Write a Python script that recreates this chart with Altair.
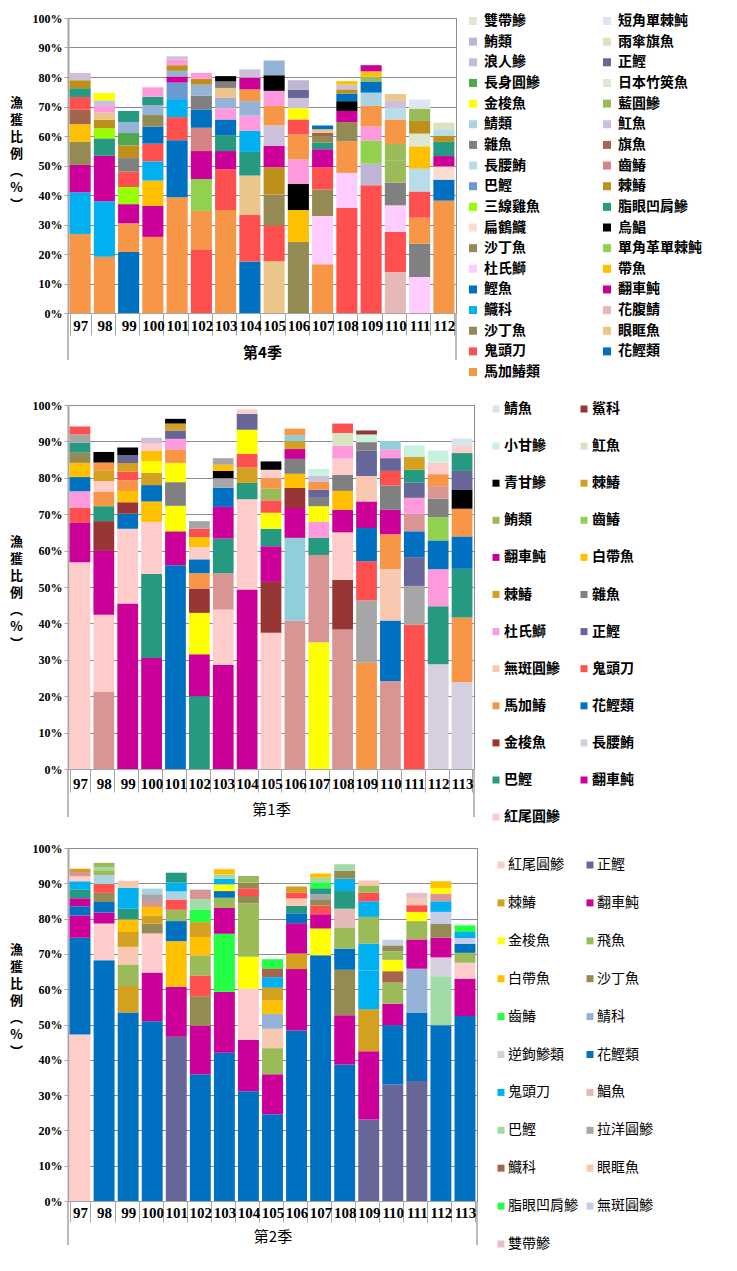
import altair as alt
import pandas as pd

PALETTE = {
    "org": "#F79646", "red": "#FF5050", "cyan": "#00B0F0", "blue": "#0070C0",
    "mag": "#CC0099", "olv": "#948A54", "yor": "#FFC000", "yel": "#FFFF00",
    "brn": "#A5644E", "teal": "#259A80", "gold": "#BF8F1C", "gold2": "#D4A020",
    "lav": "#CCC0DA", "lav2": "#BDB5D2", "lav3": "#C3BFD9", "lav4": "#D5CFE0",
    "pink": "#FF99DD", "lpink": "#FFCCFF", "lpk2": "#FFCCCC", "sb": "#95B3D7",
    "bb": "#6A9BD0", "grn": "#4EA84E", "lime": "#99FF00", "gray": "#808080",
    "gray2": "#A6A6A6", "lgb": "#B7DEE8", "lbl": "#A9D3E3", "lbl2": "#92CDDC",
    "pale": "#DDE8D4", "pgreen": "#D7E4BD", "tan": "#EBC68B", "dpink": "#D99594",
    "dpink1": "#D48484", "rose": "#E6B9B8", "blk": "#000000", "lgrn": "#92D050",
    "ogrn": "#9BBB59", "navy": "#666699", "peach": "#FCDCCF", "peach2": "#F9C8B0",
    "lsky": "#DCE6F0", "lsky2": "#D8E4EC", "dred": "#983535", "mint": "#C6F2DE",
    "bgrn": "#22FF44", "lgreen2": "#A0DCA8", "periw": "#C5CEE6", "pinkish": "#E6C0C8",
}

# ---------------- 第4季 ----------------
Q4_YEARS = ["97", "98", "99", "100", "101", "102", "103", "104", "105", "106",
            "107", "108", "109", "110", "111", "112"]
Q4_STACKS = [
    [("org", 26.8), ("cyan", 14.1), ("mag", 9.3), ("olv", 7.8), ("yor", 6.0), ("brn", 4.9), ("red", 4.3), ("teal", 3.0), ("gold", 2.7), ("lav", 2.5)],
    [("org", 19.1), ("cyan", 18.8), ("mag", 15.4), ("teal", 5.9), ("lime", 3.4), ("gold", 2.9), ("tan", 2.4), ("pink", 2.3), ("lav", 1.9), ("yel", 2.5)],
    [("blue", 20.7), ("org", 9.7), ("mag", 6.5), ("lime", 5.8), ("red", 5.2), ("gray", 4.6), ("gold", 4.3), ("grn", 4.2), ("sb", 3.7), ("teal", 3.8)],
    [("org", 25.8), ("mag", 10.5), ("yor", 8.6), ("cyan", 6.5), ("red", 6.0), ("blue", 5.8), ("olv", 3.9), ("sb", 3.4), ("teal", 2.8), ("pink", 3.2)],
    [("org", 39.2), ("blue", 19.4), ("red", 7.8), ("cyan", 6.1), ("bb", 5.6), ("mag", 2.1), ("sb", 1.9), ("gold", 1.9), ("pink", 1.9), ("lav", 1.1)],
    [("red", 21.6), ("org", 13.0), ("lgrn", 10.8), ("mag", 9.5), ("dpink1", 7.9), ("blue", 6.2), ("gray", 4.7), ("sb", 3.7), ("gold", 2.0), ("pink", 2.0)],
    [("org", 34.9), ("red", 13.8), ("mag", 6.2), ("teal", 5.4), ("blue", 5.3), ("pink", 3.8), ("sb", 3.5), ("tan", 3.4), ("gray", 2.2), ("blk", 1.8)],
    [("blue", 17.5), ("red", 15.7), ("tan", 13.4), ("teal", 8.0), ("cyan", 7.2), ("pink", 5.1), ("sb", 4.9), ("org", 4.0), ("mag", 4.0), ("lav", 2.8)],
    [("tan", 17.5), ("red", 12.2), ("olv", 10.5), ("gold", 9.2), ("mag", 7.2), ("lav", 7.0), ("org", 6.6), ("pink", 5.1), ("blk", 5.3), ("sb", 5.0)],
    [("olv", 24.1), ("yor", 10.8), ("blk", 8.9), ("pink", 8.3), ("org", 8.4), ("red", 5.1), ("yel", 3.8), ("lav", 3.5), ("navy", 2.8), ("lav2", 3.2)],
    [("org", 16.5), ("lpink", 16.4), ("olv", 9.0), ("red", 7.4), ("mag", 6.2), ("teal", 2.2), ("olv", 2.3), ("brn", 1.1), ("tan", 1.2), ("blue", 1.3)],
    [("red", 35.6), ("lpink", 11.9), ("org", 10.7), ("olv", 6.5), ("mag", 3.8), ("blk", 3.3), ("blue", 2.6), ("gold", 1.4), ("lav", 1.6), ("yor", 1.2)],
    [("red", 43.3), ("lav2", 7.3), ("lgrn", 7.9), ("pink", 4.7), ("org", 7.0), ("lbl", 4.5), ("blue", 3.6), ("ogrn", 1.9), ("yor", 1.7), ("mag", 2.1)],
    [("rose", 13.9), ("red", 13.6), ("lpink", 9.0), ("gray", 7.7), ("ogrn", 7.6), ("ogrn", 5.5), ("org", 8.3), ("lgb", 3.9), ("lav", 2.4), ("tan", 2.3)],
    [("lpink", 12.2), ("gray", 11.3), ("org", 8.8), ("red", 8.9), ("lgb", 7.7), ("yor", 7.6), ("pale", 4.3), ("gold", 4.3), ("ogrn", 4.2), ("lsky", 3.1)],
    [("org", 38.1), ("blue", 7.1), ("peach", 4.5), ("mag", 3.5), ("teal", 4.8), ("gold", 2.0), ("lgb", 2.3), ("pgreen", 2.2)],
]
Q4_LEGEND_LEFT = [("雙帶鰺", "pale"), ("鮪類", "lav2"), ("浪人鰺", "lav3"), ("長身圓鰺", "grn"),
                  ("金梭魚", "yel"), ("鯖類", "lbl"), ("雜魚", "gray"), ("長腰鮪", "lgb"),
                  ("巴鰹", "bb"), ("三線雞魚", "lime"), ("扁鶴鱵", "peach"), ("沙丁魚", "olv"),
                  ("杜氏鰤", "lpink"), ("鰹魚", "blue"), ("鱵科", "cyan"), ("沙丁魚", "olv"),
                  ("鬼頭刀", "red"), ("馬加鰆類", "org")]
Q4_LEGEND_RIGHT = [("短角單棘魨", "lsky"), ("雨傘旗魚", "pgreen"), ("正鰹", "navy"), ("日本竹筴魚", "pale"),
                   ("藍圓鰺", "ogrn"), ("魟魚", "lav"), ("旗魚", "brn"), ("齒鰆", "dpink1"),
                   ("棘鰆", "gold"), ("脂眼凹肩鰺", "teal"), ("烏鯧", "blk"), ("單角革單棘魨", "lgrn"),
                   ("帶魚", "yor"), ("翻車魨", "mag"), ("花腹鯖", "rose"), ("眼眶魚", "tan"),
                   ("花鰹類", "blue")]

# ---------------- 第1季 ----------------
Q1_YEARS = ["97", "98", "99", "100", "101", "102", "103", "104", "105", "106",
            "107", "108", "109", "110", "111", "112", "113"]
Q1_STACKS = [
    [("lpk2", 56.8), ("mag", 10.8), ("red", 4.2), ("pink", 4.5), ("blue", 3.9), ("yor", 3.9), ("olv", 2.8), ("teal", 2.7), ("gray2", 2.3), ("red", 2.2)],
    [("dpink", 21.3), ("lpk2", 21.1), ("mag", 17.5), ("dred", 8.2), ("teal", 4.1), ("org", 3.9), ("lpk2", 3.0), ("gold2", 2.8), ("org", 2.3), ("blk", 2.9)],
    [("mag", 45.5), ("lpk2", 20.5), ("blue", 4.1), ("dred", 3.2), ("yor", 3.1), ("org", 2.9), ("red", 2.4), ("gold2", 2.4), ("navy", 2.1), ("blk", 2.1)],
    [("mag", 30.5), ("teal", 23.1), ("lpk2", 14.3), ("yor", 5.6), ("blue", 4.5), ("gold2", 3.4), ("yel", 3.2), ("yor", 2.8), ("lpk2", 2.0), ("lav", 1.6)],
    [("blue", 56.0), ("mag", 9.3), ("yel", 7.0), ("gray", 6.5), ("yel", 5.3), ("org", 3.7), ("pink", 2.9), ("navy", 2.3), ("gold2", 1.9), ("blk", 1.3)],
    [("teal", 20.0), ("mag", 11.5), ("yel", 11.4), ("dred", 6.7), ("org", 4.2), ("blue", 3.8), ("lpk2", 3.4), ("yor", 2.7), ("red", 2.3), ("gray2", 2.1)],
    [("mag", 28.6), ("lpk2", 15.2), ("dpink", 10.0), ("teal", 9.5), ("mag", 8.7), ("blue", 5.3), ("gray2", 2.6), ("blk", 2.0), ("yor", 1.7), ("gray2", 1.8)],
    [("mag", 49.3), ("lpk2", 24.8), ("teal", 4.5), ("gold2", 4.2), ("red", 3.8), ("yel", 6.6), ("navy", 4.4), ("lpk2", 1.2)],
    [("lpk2", 37.4), ("dred", 14.0), ("mag", 9.8), ("teal", 4.8), ("yel", 4.4), ("red", 3.4), ("ogrn", 3.2), ("org", 3.0), ("lpk2", 2.2), ("blk", 2.3)],
    [("dpink", 40.7), ("lbl2", 22.8), ("mag", 8.2), ("dred", 5.5), ("yor", 3.9), ("gray", 4.1), ("mag", 2.7), ("gold2", 2.2), ("lbl2", 1.6), ("org", 1.8)],
    [("yel", 34.8), ("dpink", 24.0), ("teal", 4.7), ("pink", 4.4), ("yel", 4.3), ("gray", 2.3), ("navy", 2.2), ("org", 2.2), ("lav", 1.7), ("mint", 1.8)],
    [("dpink", 38.3), ("dred", 13.7), ("lpk2", 13.0), ("mag", 6.2), ("yor", 5.2), ("gray", 4.4), ("lpk2", 4.5), ("pink", 3.5), ("pgreen", 3.5), ("red", 2.6)],
    [("org", 29.2), ("gray2", 17.1), ("red", 10.8), ("blue", 9.1), ("mag", 7.3), ("peach2", 7.0), ("navy", 7.0), ("gray", 2.3), ("mint", 2.1), ("dred", 1.1)],
    [("dpink", 24.2), ("blue", 16.6), ("peach2", 14.1), ("org", 9.6), ("mag", 6.7), ("gray", 6.7), ("red", 4.0), ("navy", 3.5), ("pink", 2.4), ("lbl2", 2.3)],
    [("red", 39.6), ("gray2", 10.7), ("navy", 7.9), ("blue", 7.1), ("dpink", 4.8), ("pink", 4.4), ("navy", 4.2), ("teal", 3.5), ("gold2", 3.5), ("mint", 3.2)],
    [("lav4", 28.8), ("teal", 15.9), ("pink", 10.2), ("blue", 7.9), ("lgrn", 6.4), ("gray", 5.1), ("dpink", 3.4), ("org", 3.3), ("lpk2", 3.2), ("mint", 3.3)],
    [("lav4", 23.9), ("org", 17.7), ("teal", 13.4), ("blue", 8.9), ("org", 7.6), ("blk", 5.3), ("navy", 5.1), ("teal", 4.9), ("lpk2", 1.9), ("lsky2", 2.1)],
]
Q1_LEGEND_LEFT = [("鯖魚", "lsky2"), ("小甘鰺", "mint"), ("青甘鰺", "blk"), ("鮪類", "ogrn"),
                  ("翻車魨", "mag"), ("棘鰆", "gold2"), ("杜氏鰤", "pink"), ("無斑圓鰺", "peach2"),
                  ("馬加鰆", "org"), ("金梭魚", "dred"), ("巴鰹", "teal"), ("紅尾圓鰺", "lpk2")]
Q1_LEGEND_RIGHT = [("鯊科", "dred"), ("魟魚", "pgreen"), ("棘鰆", "gold2"), ("齒鰆", "lgrn"),
                   ("白帶魚", "yor"), ("雜魚", "gray"), ("正鰹", "navy"), ("鬼頭刀", "red"),
                   ("花鰹類", "blue"), ("長腰鮪", "lav4"), ("翻車魨", "mag")]

# ---------------- 第2季 ----------------
Q2_YEARS = ["97", "98", "99", "100", "101", "102", "103", "104", "105", "106",
            "107", "108", "109", "110", "111", "112", "113"]
Q2_STACKS = [
    [("lpk2", 47.2), ("blue", 27.4), ("mag", 6.3), ("blue", 2.6), ("mag", 2.3), ("teal", 2.4), ("cyan", 2.4), ("lpk2", 1.4), ("dpink", 1.2), ("gold2", 0.9)],
    [("blue", 68.2), ("lpk2", 10.4), ("mag", 3.1), ("blue", 3.0), ("olv", 2.6), ("red", 2.5), ("lbl", 2.5), ("ogrn", 1.4), ("lgreen2", 0.9), ("ogrn", 1.2)],
    [("blue", 53.4), ("gold2", 7.5), ("ogrn", 6.1), ("peach2", 5.0), ("gold2", 4.2), ("yor", 3.6), ("teal", 3.0), ("cyan", 5.9), ("peach2", 2.0)],
    [("blue", 50.9), ("mag", 13.8), ("lpk2", 11.1), ("olv", 2.8), ("gold2", 2.3), ("yor", 2.4), ("dpink", 1.7), ("gray2", 1.9), ("lbl", 1.6)],
    [("navy", 46.5), ("mag", 14.2), ("yor", 12.9), ("blue", 5.7), ("ogrn", 3.2), ("red", 2.9), ("lbl", 2.3), ("cyan", 2.5), ("teal", 2.8)],
    [("blue", 35.9), ("mag", 13.7), ("olv", 8.4), ("red", 5.9), ("ogrn", 5.7), ("yor", 5.2), ("gold2", 4.2), ("bgrn", 3.6), ("lgreen2", 2.9), ("dpink", 2.7)],
    [("blue", 42.0), ("mag", 17.3), ("bgrn", 16.4), ("mag", 7.3), ("ogrn", 2.9), ("blue", 1.9), ("yel", 1.9), ("cyan", 1.6), ("lgreen2", 1.2), ("yor", 1.5)],
    [("blue", 31.1), ("mag", 14.6), ("lpk2", 14.5), ("yel", 9.0), ("ogrn", 15.1), ("olv", 2.1), ("red", 2.2), ("olv", 1.6), ("ogrn", 1.9)],
    [("blue", 24.6), ("mag", 11.3), ("ogrn", 7.4), ("peach2", 5.5), ("sb", 4.2), ("yor", 3.8), ("gold2", 3.6), ("cyan", 3.0), ("brn", 2.5), ("bgrn", 2.6)],
    [("blue", 48.3), ("mag", 17.4), ("gold2", 4.4), ("mag", 8.6), ("blue", 2.8), ("teal", 2.1), ("peach2", 2.1), ("red", 1.7), ("gold2", 1.7)],
    [("blue", 69.6), ("yel", 7.6), ("mag", 4.0), ("red", 2.5), ("olv", 1.6), ("gray2", 1.6), ("teal", 1.7), ("bgrn", 1.7), ("lgreen2", 1.3), ("yor", 1.2)],
    [("blue", 38.7), ("mag", 13.9), ("olv", 12.9), ("blue", 6.0), ("ogrn", 6.0), ("rose", 5.3), ("teal", 5.0), ("cyan", 3.5), ("olv", 2.2), ("lgreen2", 1.9)],
    [("navy", 23.1), ("mag", 19.3), ("gold2", 11.9), ("cyan", 11.0), ("cyan", 7.6), ("ogrn", 7.6), ("cyan", 4.4), ("red", 2.4), ("ogrn", 2.1), ("peach2", 1.4)],
    [("navy", 33.0), ("blue", 16.8), ("mag", 6.1), ("ogrn", 6.0), ("brn", 3.2), ("yel", 3.2), ("ogrn", 2.4), ("olv", 1.7), ("periw", 1.6)],
    [("navy", 34.0), ("blue", 19.4), ("sb", 12.4), ("mag", 8.3), ("ogrn", 5.2), ("yel", 2.6), ("red", 1.9), ("peach2", 1.8), ("pinkish", 1.7)],
    [("blue", 49.8), ("lgreen2", 13.9), ("lav4", 5.3), ("mag", 5.6), ("olv", 4.0), ("periw", 3.3), ("cyan", 3.0), ("dpink", 2.2), ("yel", 1.6), ("yor", 1.9)],
    [("blue", 52.4), ("mag", 10.6), ("lpk2", 4.5), ("ogrn", 2.8), ("blue", 2.6), ("periw", 1.6), ("cyan", 1.7), ("bgrn", 1.9)],
]
Q2_LEGEND_LEFT = [("紅尾圓鯵", "lpk2"), ("棘鰆", "gold2"), ("金梭魚", "yel"), ("白帶魚", "yor"),
                  ("齒鰆", "bgrn"), ("逆鉤鯵類", "lav4"), ("鬼頭刀", "cyan"), ("巴鰹", "lgreen2"),
                  ("鱵科", "brn"), ("脂眼凹肩鯵", "bgrn"), ("雙帶鯵", "pinkish")]
Q2_LEGEND_RIGHT = [("正鰹", "navy"), ("翻車魨", "mag"), ("飛魚", "ogrn"), ("沙丁魚", "olv"),
                   ("鯖科", "sb"), ("花鰹類", "blue"), ("鯧魚", "rose"), ("拉洋圓鯵", "gray2"),
                   ("眼眶魚", "peach2"), ("無斑圓鯵", "periw")]

Y_TITLE = ["漁", "獲", "比", "例", "︵", "%", "︶"]
Y_TICKS = [0, 0.1, 0.2, 0.3, 0.4, 0.5, 0.6, 0.7, 0.8, 0.9, 1.0]

COLOR_SCALE = alt.Scale(domain=list(PALETTE.keys()), range=list(PALETTE.values()))
GRID = "#8C8C8C"
LINE = "#A6A6A6"
CJK = "Noto Sans CJK TC"
LEG_W = 200


def bar_panel(years, stacks, title, width, height, tick_len, label_pad, title_y,
              ytitle_y, outer_len, title_weight):
    rows = []
    for yr, segs in zip(years, stacks):
        for i, (k, v) in enumerate(segs):
            rows.append({"year": yr, "key": k, "frac": v / 100.0, "i": i})
    df = pd.DataFrame(rows)
    bars = alt.Chart(df).mark_bar().encode(
        x=alt.X("year:N", sort=years,
                scale=alt.Scale(paddingInner=0.13, paddingOuter=0.065),
                axis=alt.Axis(title=title, labelAngle=0, labelFont="Liberation Serif",
                              labelFontWeight="bold", labelFontSize=15, labelColor="black",
                              labelOverlap=False, labelBound=False, labelFlush=False,
                              tickBand="extent", tickSize=tick_len, tickColor=LINE,
                              domainColor=LINE, labelPadding=label_pad,
                              titleFont=CJK, titleFontSize=15, titleFontWeight=title_weight,
                              titleColor="black", titleY=title_y, titleBaseline="middle")),
        y=alt.Y("frac:Q", stack="zero",
                scale=alt.Scale(domain=[0, 1], nice=False),
                axis=alt.Axis(values=Y_TICKS, format=".0%", grid=True, gridColor=GRID,
                              labelFont="Liberation Serif", labelFontWeight="bold",
                              labelFontSize=12, labelColor="black", labelPadding=2,
                              tickSize=4, tickColor=LINE, domainColor=LINE, domainWidth=2,
                              title=Y_TITLE, titleAngle=0, titleFont=CJK, titleFontSize=13,
                              titleFontWeight="bold", titleColor="black", titleLineHeight=17,
                              titleX=-52, titleY=ytitle_y, titleAlign="center",
                              titleBaseline="middle")),
        color=alt.Color("key:N", scale=COLOR_SCALE, legend=None),
        order=alt.Order("i:Q", sort="ascending"),
    )
    edge = pd.DataFrame({"a": [0]})
    left = alt.Chart(edge).mark_rule(color=LINE, strokeWidth=1.5).encode(
        x=alt.value(0), y=alt.value(height), y2=alt.value(height + outer_len))
    right = alt.Chart(edge).mark_rule(color=LINE, strokeWidth=1.5).encode(
        x=alt.value(width), y=alt.value(height), y2=alt.value(height + outer_len))
    return alt.layer(bars, left, right).properties(
        width=width, height=height, view=alt.ViewBackground(stroke=GRID))


def legend_panel(left, right, x0, col_dx, text_dx, y0, dy, height, font_size, weight, sq):
    rows = []
    for c, col in enumerate([left, right]):
        for r, (lab, key) in enumerate(col):
            rows.append({"col": c, "row": r, "label": lab, "key": key})
    df = pd.DataFrame(rows)
    xs = alt.Scale(domain=[-x0 / col_dx, (LEG_W - x0) / col_dx], nice=False, zero=False)
    ys = alt.Scale(domain=[-y0 / dy, (height - y0) / dy], nice=False, zero=False, reverse=True)
    base = alt.Chart(df).encode(
        x=alt.X("col:Q", scale=xs, axis=None),
        y=alt.Y("row:Q", scale=ys, axis=None))
    squares = base.mark_square(size=sq, opacity=1).encode(
        color=alt.Color("key:N", scale=COLOR_SCALE, legend=None))
    texts = base.mark_text(align="left", baseline="middle", dx=text_dx, font=CJK,
                           fontSize=font_size, fontWeight=weight, color="black").encode(
        text="label:N")
    return alt.layer(squares, texts).properties(
        width=LEG_W, height=height, view=alt.ViewBackground(stroke="transparent"))


p1 = bar_panel(Q4_YEARS, Q4_STACKS, "第4季", 388, 295, 22, -17, 39, 84, 47, "bold")
l1 = legend_panel(Q4_LEGEND_LEFT, Q4_LEGEND_RIGHT, -4, 134, 11, 3, 20.65, 308, 14, "bold", 64)
p2 = bar_panel(Q1_YEARS, Q1_STACKS, "第1季", 406, 364, 23, -16, 40, 136, 48, "normal")
l2 = legend_panel(Q1_LEGEND_LEFT, Q1_LEGEND_RIGHT, 19, 88, 8, 4, 37.1, 364, 14, "bold", 49)
p3 = bar_panel(Q2_YEARS, Q2_STACKS, "第2季", 409, 353, 21, -17, 35, 101, 44, "normal")
l3 = legend_panel(Q2_LEGEND_LEFT, Q2_LEGEND_RIGHT, 24, 89, 7, 17, 37.9, 353, 14, "normal", 49)

chart = alt.concat(
    p1, l1, p2, l2, p3, l3,
    columns=2,
    spacing=alt.RowColnumber(row=79, column=0),
    bounds="flush",
    align="each",
).properties(
    padding={"left": 0, "top": 3, "right": 0, "bottom": 0},
    background="white",
).configure_view(strokeWidth=1)

chart.save("out.html", embed_options={"renderer": "svg", "actions": False})
